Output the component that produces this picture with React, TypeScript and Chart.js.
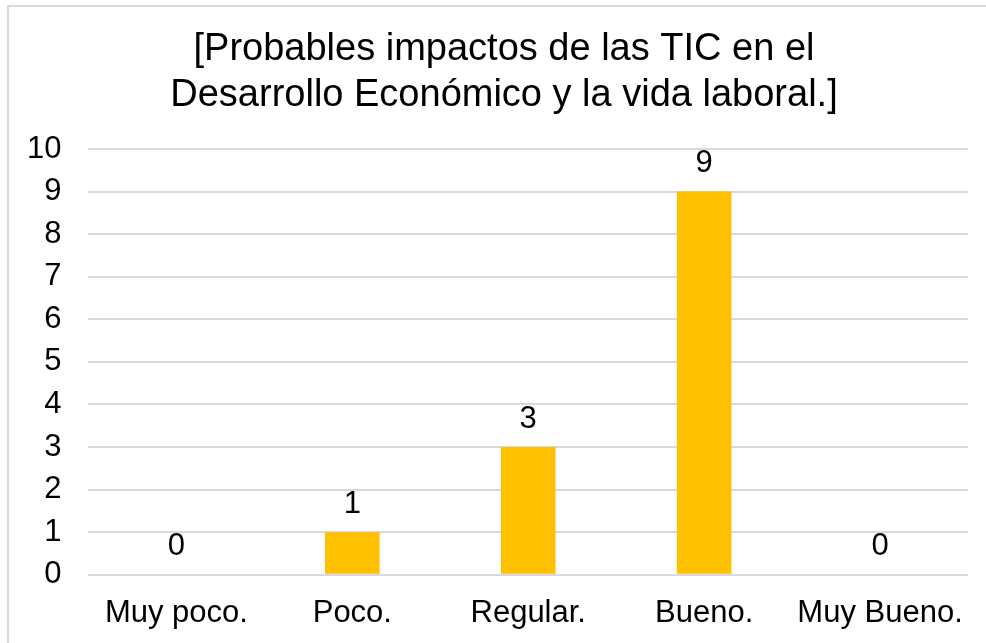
import React, { useEffect, useRef } from "react";
import { Chart, registerables } from "chart.js";

Chart.register(...registerables);

const titleLines = ["[Probables impactos de las TIC en el", "Desarrollo Económico y la vida laboral.]"];
const categories = ["Muy poco.", "Poco.", "Regular.", "Bueno.", "Muy Bueno."];
const values = [0, 1, 3, 9, 0];
const yMin = 0;
const yMax = 10;
const yStep = 1;

const FONT = "'Liberation Sans', Arial, sans-serif";

const dataLabelPlugin = {
  id: "dataLabels",
  afterDatasetsDraw(chart: any) {
    const ctx = chart.ctx;
    const meta = chart.getDatasetMeta(0);
    const ds = chart.data.datasets[0];
    ctx.save();
    ctx.font = `31px ${FONT}`;
    ctx.fillStyle = "#000000";
    ctx.textAlign = "center";
    ctx.textBaseline = "middle";
    meta.data.forEach((bar: any, i: number) => {
      ctx.fillText(String(ds.data[i]), bar.x, bar.y - 28);
    });
    ctx.restore();
  },
};

// Title centred on the original (cropped) chart frame rather than the canvas
const titlePlugin = {
  id: "frameTitle",
  afterDraw(chart: any) {
    const ctx = chart.ctx;
    ctx.save();
    ctx.font = `38px ${FONT}`;
    ctx.fillStyle = "#000000";
    ctx.textAlign = "center";
    ctx.textBaseline = "alphabetic";
    const cx = 504;
    ctx.fillText(titleLines[0], cx, 60);
    ctx.fillText(titleLines[1], cx, 106);
    ctx.restore();
  },
};

export default function App() {
  const ref = useRef<HTMLCanvasElement>(null);
  useEffect(() => {
    if (!ref.current) return;
    const chart = new Chart(ref.current, {
      type: "bar",
      data: {
        labels: categories,
        datasets: [
          {
            data: values,
            backgroundColor: "#FFC000",
            borderWidth: 0,
            barPercentage: 0.31,
            categoryPercentage: 1,
          },
        ],
      },
      options: {
        responsive: false,
        animation: false,
        devicePixelRatio: 1,
        layout: { padding: { left: 0, right: 18, top: 149, bottom: 1 } },
        plugins: {
          legend: { display: false },
          tooltip: { enabled: false },
          title: { display: false },
        },
        scales: {
          x: {
            grid: { display: false, tickLength: 10 },
            border: { display: false },
            ticks: {
              color: "#000000",
              font: { family: FONT, size: 31 },
              padding: 10,
              maxRotation: 0,
              autoSkip: false,
            },
          },
          y: {
            min: yMin,
            max: yMax,
            border: { display: false },
            grid: { color: "#d9d9d9", lineWidth: 2, drawTicks: false },
            ticks: {
              stepSize: yStep,
              autoSkip: false,
              color: "#000000",
              font: { family: FONT, size: 31 },
              padding: 27,
            },
          },
        },
      },
      plugins: [dataLabelPlugin, titlePlugin],
    });
    return () => chart.destroy();
  }, []);

  return (
    <div
      style={{
        position: "fixed",
        left: 0,
        top: 0,
        width: 986,
        height: 643,
        background: "#ffffff",
        overflow: "hidden",
      }}
    >
      <div
        style={{
          position: "absolute",
          left: 7,
          top: 5,
          width: 986,
          height: 643,
          borderLeft: "2px solid #d9d9d9",
          borderTop: "2px solid #d9d9d9",
        }}
      />
      <canvas
        ref={ref}
        width={986}
        height={643}
        style={{ position: "absolute", left: 0, top: 0, width: 986, height: 643 }}
      />
    </div>
  );
}
